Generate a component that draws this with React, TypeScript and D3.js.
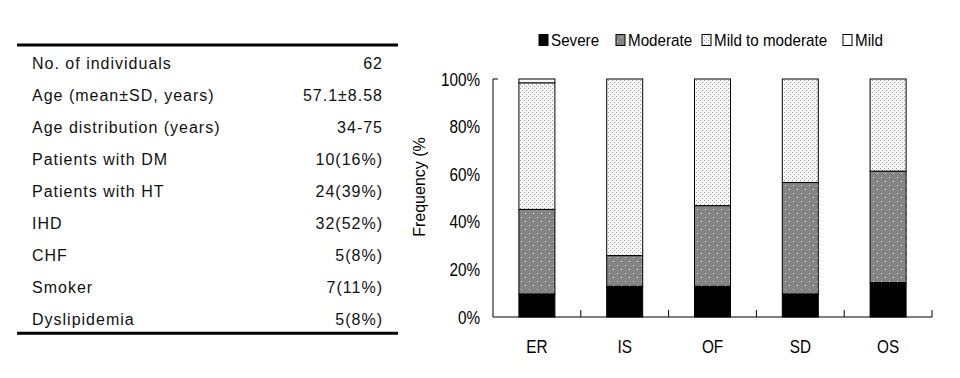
import React from "react";
import * as d3 from "d3";

// ---- Table data ----
const tableLabels = [
  "No. of individuals",
  "Age (mean±SD, years)",
  "Age distribution (years)",
  "Patients with DM",
  "Patients with HT",
  "IHD",
  "CHF",
  "Smoker",
  "Dyslipidemia",
];
const tableValues = ["62", "57.1±8.58", "34-75", "10(16%)", "24(39%)", "32(52%)", "5(8%)", "7(11%)", "5(8%)"];

// ---- Chart data (percent) ----
const categories = ["ER", "IS", "OF", "SD", "OS"];
const severe = [9.7, 12.9, 12.9, 9.7, 14.5];
const moderate = [35.5, 12.9, 33.9, 46.8, 46.8];
const mildToModerate = [53.2, 74.2, 53.2, 43.5, 38.7];
const mild = [1.6, 0, 0, 0, 0];
const seriesNames = ["Severe", "Moderate", "Mild to moderate", "Mild"];
const yTicks = [0, 20, 40, 60, 80, 100];

const W = 960;
const H = 378;
const fills = ["#000000", "url(#patModerate)", "url(#patMild2Mod)", "#ffffff"];
const legendX = [539, 616, 702, 843];

export default function App() {
  const x = d3.scaleBand<string>().domain(categories).range([493, 932]).padding(0);
  const y = d3.scaleLinear().domain([0, 100]).range([317, 79]);
  const barW = x.bandwidth() * 0.41;

  const series = [severe, moderate, mildToModerate, mild];
  const stackData = categories.map((c, i) => ({
    cat: c,
    Severe: severe[i],
    Moderate: moderate[i],
    "Mild to moderate": mildToModerate[i],
    Mild: mild[i],
  }));
  const stacked = d3.stack<any>().keys(seriesNames)(stackData);
  void series;

  const rowY = d3.scaleLinear().domain([0, 1]).range([68.5, 100.5]);

  return (
    <svg
      width={W}
      height={H}
      style={{ position: "absolute", left: 0, top: 0, background: "#fff" }}
      fontFamily="'Liberation Sans', Arial, sans-serif"
    >
      <defs>
        <pattern id="patModerate" width="8" height="8" patternUnits="userSpaceOnUse">
          <rect width="8" height="8" fill="#858585" />
          <rect x="1" y="1" width="1" height="1" fill="#ffffff" />
          <rect x="5" y="5" width="1" height="1" fill="#ffffff" />
        </pattern>
        <pattern id="patMild2Mod" width="4" height="4" patternUnits="userSpaceOnUse">
          <rect width="4" height="4" fill="#f8f8f8" />
          <rect x="0" y="0" width="1" height="1" fill="#9a9a9a" />
          <rect x="2" y="2" width="1" height="1" fill="#9a9a9a" />
        </pattern>
      </defs>
      <rect width={W} height={H} fill="#fff" />

      {/* Table */}
      <line x1={17} x2={398} y1={45} y2={45} stroke="#000" strokeWidth={3} />
      <line x1={17} x2={398} y1={333.3} y2={333.3} stroke="#000" strokeWidth={3} />
      {tableLabels.map((l, i) => (
        <g key={l} fontSize={16} fill="#111" letterSpacing={1}>
          <text x={32} y={rowY(i)}>{l}</text>
          <text x={383} y={rowY(i)} textAnchor="end">{tableValues[i]}</text>
        </g>
      ))}

      {/* Legend */}
      {seriesNames.map((s, i) => (
        <g key={s}>
          <rect x={legendX[i]} y={34.5} width={9} height={11} fill={fills[i]} stroke="#000" strokeWidth={1} />
          <text
            transform={`translate(${legendX[i] + 12},46) scale(0.95,1)`}
            fontSize={16}
            fill="#000"
          >
            {s}
          </text>
        </g>
      ))}

      {/* Bars */}
      {stacked.map((layer, li) =>
        layer.map((d, ci) => {
          const h = y(d[0]) - y(d[1]);
          if (h <= 0) return null;
          const cx = (x(categories[ci]) as number) + x.bandwidth() / 2;
          return (
            <rect
              key={`${li}-${ci}`}
              x={cx - barW / 2}
              y={y(d[1])}
              width={barW}
              height={h}
              fill={fills[li]}
              stroke="#000"
              strokeWidth={1}
            />
          );
        })
      )}

      {/* Axes */}
      <line x1={493} x2={493} y1={y(100)} y2={y(0)} stroke="#000" strokeWidth={1} />
      <line x1={493} x2={498} y1={y(100)} y2={y(100)} stroke="#000" strokeWidth={1} />
      <line x1={493} x2={932} y1={y(0)} y2={y(0)} stroke="#000" strokeWidth={1} />
      {categories.map((c) => {
        const bx = (x(c) as number) + x.bandwidth();
        return <line key={c} x1={bx} x2={bx} y1={y(0)} y2={y(0) - 7} stroke="#000" strokeWidth={1} />;
      })}
      {yTicks.map((t) => (
        <text
          key={t}
          transform={`translate(480,${y(t) + 6.5}) scale(0.85,1)`}
          textAnchor="end"
          fontSize={18}
          fill="#000"
        >
          {t}%
        </text>
      ))}
      {categories.map((c) => (
        <text
          key={c}
          transform={`translate(${(x(c) as number) + x.bandwidth() / 2},353) scale(0.85,1)`}
          textAnchor="middle"
          fontSize={18}
          fill="#000"
        >
          {c}
        </text>
      ))}
      <text
        transform={`translate(424.5,187) rotate(-90)`}
        textAnchor="middle"
        fontSize={16}
        fill="#000"
      >
        Frequency (%
      </text>
    </svg>
  );
}
